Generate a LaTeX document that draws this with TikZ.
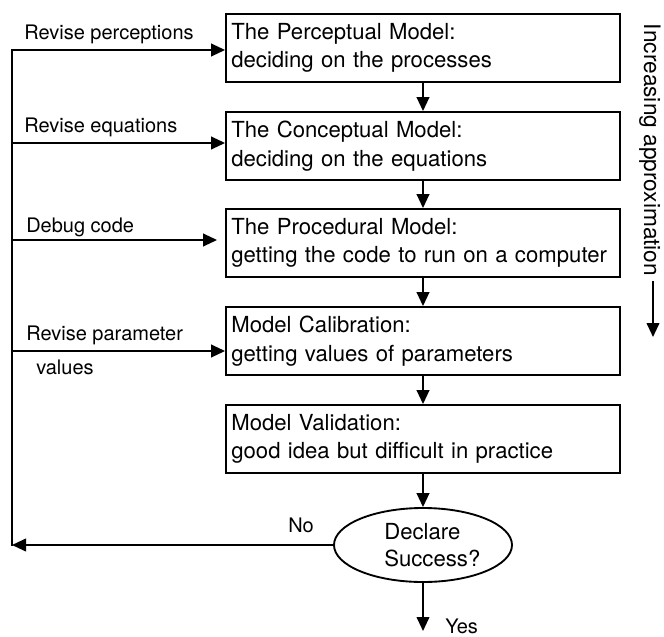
\documentclass[tikz,border=0pt]{standalone}
\usepackage{fontspec}
\setmainfont{TeX Gyre Heros}
\usetikzlibrary{arrows.meta,shapes.geometric}
\tikzset{
    box/.style={draw, line width=1.4pt, minimum height=51pt, text width=287.5pt, inner xsep=4pt, align=left, font=\fontsize{16.6}{21.5}\selectfont},
    lbl/.style={anchor=west, inner sep=0pt, font=\fontsize{15}{18}\selectfont},
    arr/.style={line width=1.4pt, -{Triangle[length=10.5pt, width=9.5pt]}},
}
\begin{document}
\begin{tikzpicture}[x=0.75pt, y=-0.75pt]
    \useasboundingbox (0,0) rectangle (664,636);
    \foreach \n/\y/\txa/\txb in {1/48/The Perceptual Model:/deciding on the processes,
            2/146/The Conceptual Model:/deciding on the equations,
            3/243/The Procedural Model:/getting the code to run on a computer,
            4/341/Model Calibration:/getting values of parameters,
            5/439/Model Validation:/good idea but difficult in practice} {
        \node[box] (b\n) at (423, \y) {\txa\\\txb};
    };
    \foreach \n [count=\m from 2] in {1,...,4} {
        \draw[arr] (b\n) -- (b\m);
    };
    \node[draw, ellipse, line width=1.4pt, minimum width=133.5pt, minimum height=55.5pt, inner sep=0pt, align=left, font=\fontsize{16.6}{20}\selectfont] (dec) at (423, 545) {\hspace*{14pt}Declare\\\hspace*{14pt}Success?};
    \draw[arr] (b5) -- (dec);
    \foreach \n/\y/\s in {1/50/0, 2/143/0, 3/240/6, 4/351/0} {
        \coordinate (l\n) at (12, \y);
        \draw[arr, shorten >=\s pt] (l\n) -- (b\n.west |- l\n);
    };
    \coordinate (lb) at (12, 545);
    \draw[arr] (dec) -- (lb);
    \draw[line width=1.4pt, line cap=rect] (lb) -- (l1);
    \node[lbl] (rp) at (24, 34) {Revise perceptions};
    \node[lbl] (re) at (24, 127) {Revise equations};
    \node[lbl] (dc) at (26, 227) {Debug code};
    \node[lbl, align=left, font=\fontsize{15}{25.5}\selectfont] (rpv) at (26, 350) {Revise parameter\\\hspace*{7.5pt}values};
    \node[lbl] (no) at (288, 525) {No};
    \coordinate (yes) at (423, 631);
    \draw[arr] (dec) -- (yes);
    \node[lbl] (yeslbl) at (445, 626) {Yes};
    \node[rotate=-90, font=\fontsize{17}{20}\selectfont] (incr) at (650, 150) {Increasing approximation};
    \coordinate (dn) at (653, 337);
    \draw[arr] (incr.east -| dn) -- (dn);
\end{tikzpicture}
\end{document}
